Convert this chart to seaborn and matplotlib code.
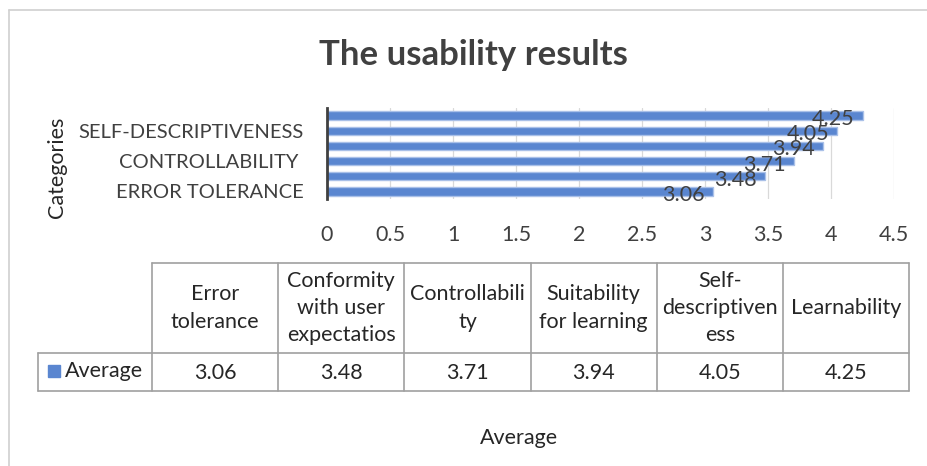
import matplotlib
matplotlib.use("Agg")
import matplotlib.pyplot as plt
import pandas as pd
import seaborn as sns

categories = ["Error tolerance", "Conformity with user expectatios", "Controllability",
              "Suitability for learning", "Self-descriptiveness", "Learnability"]
values = [3.06, 3.48, 3.71, 3.94, 4.05, 4.25]
# axis shows only every second label, as in the original
ytick_labels = ["ERROR TOLERANCE", "", "CONTROLLABILITY ", "", "SELF-DESCRIPTIVENESS", ""]
header_labels = ["Error\ntolerance", "Conformity\nwith user\nexpectatios", "Controllabili\nty",
                 "Suitability\nfor learning", "Self-\ndescriptiven\ness", "Learnability"]
xticks = [0, 0.5, 1, 1.5, 2, 2.5, 3, 3.5, 4, 4.5]
series_name = "Average"

W, H = 928, 466
BLUE = "#5a86d0"
DARK = "#404040"

sns.set_style("white")
plt.rcParams['font.family'] = ['Lato', 'DejaVu Sans']

fig = plt.figure(figsize=(W / 100, H / 100), dpi=100)


def box(x0, y0, x1, y1):
    # pixel box (top-left origin) -> figure fraction rect
    return [x0 / W, 1 - y1 / H, (x1 - x0) / W, (y1 - y0) / H]


# overlay axes in pixel units for frame, titles and data table
ov = fig.add_axes([0, 0, 1, 1])
ov.set_xlim(0, W)
ov.set_ylim(H, 0)
ov.axis("off")

ax = fig.add_axes(box(327, 108, 894, 199))
df = pd.DataFrame({"category": categories, "value": values})
order = categories[::-1]
sns.barplot(data=df, x="value", y="category", order=order, color=BLUE, width=0.55,
            edgecolor="#a9c0e8", linewidth=1, saturation=1, ax=ax)
ax.set_xlim(0, 4.5)
ax.set_xticks(xticks)
ax.set_xticklabels([f"{t:g}" for t in xticks])
ax.set_yticks(range(len(order)))
ax.set_yticklabels(ytick_labels[::-1])
ax.tick_params(axis="y", length=0, pad=17, labelsize=14.5, labelcolor=DARK)
ax.tick_params(axis="x", length=0, pad=19, labelsize=15.5, labelcolor=DARK)
ax.set_xlabel("")
ax.set_ylabel("")
ax.grid(axis="x", color="#d9d9d9", linewidth=0.9)
ax.set_axisbelow(True)
for s in ["top", "right", "bottom"]:
    ax.spines[s].set_visible(False)
ax.spines["left"].set_color(DARK)
ax.spines["left"].set_linewidth(2)
ax.spines["left"].set_zorder(5)

for i, cat in enumerate(order):
    v = values[categories.index(cat)]
    ax.annotate(f"{v:.2f}", xy=(v, i), xytext=(-6, -2.5), textcoords="offset points",
                ha="right", va="center", fontsize=15.5, color=DARK)

# chart frame
ov.plot([9, W], [10, 10], color="#d0d0d0", lw=1.2)
ov.plot([9, 9], [10, H], color="#d0d0d0", lw=1.2)

ov.text(473, 55, "The usability results", ha="center", va="center",
        fontsize=25, fontweight="bold", color=DARK)
ov.text(57, 167, "Categories", rotation=90, ha="center", va="center",
        fontsize=15.5, color="#262626")
ov.text(519, 438, series_name, ha="center", va="center", fontsize=15.5, color="#262626")

# data table
cols = [152 + i * 126.2 for i in range(len(categories) + 1)]
top, mid, bot = 263, 353, 391
lc = "#a0a0a0"
ov.plot([cols[0], cols[-1]], [top, top], color=lc, lw=1.2)
ov.plot([38, cols[-1]], [mid, mid], color=lc, lw=1.2)
ov.plot([38, cols[-1]], [bot, bot], color=lc, lw=1.2)
ov.plot([38, 38], [mid, bot], color=lc, lw=1.2)
for c in cols:
    ov.plot([c, c], [top, bot], color=lc, lw=1.2)
for i, (lab, v) in enumerate(zip(header_labels, values)):
    cx = (cols[i] + cols[i + 1]) / 2
    ov.text(cx, (top + mid) / 2, lab, ha="center", va="center", fontsize=15.5,
            color="#262626", linespacing=1.45, multialignment="center")
    ov.text(cx, (mid + bot) / 2 + 1, f"{v:.2f}", ha="center", va="center",
            fontsize=15.5, color="#262626")
ov.add_patch(plt.Rectangle((48, 365), 12, 12, color=BLUE))
ov.text(65, 371, series_name, ha="left", va="center", fontsize=15.5, color="#262626")

fig.savefig("out.png", dpi=100)
